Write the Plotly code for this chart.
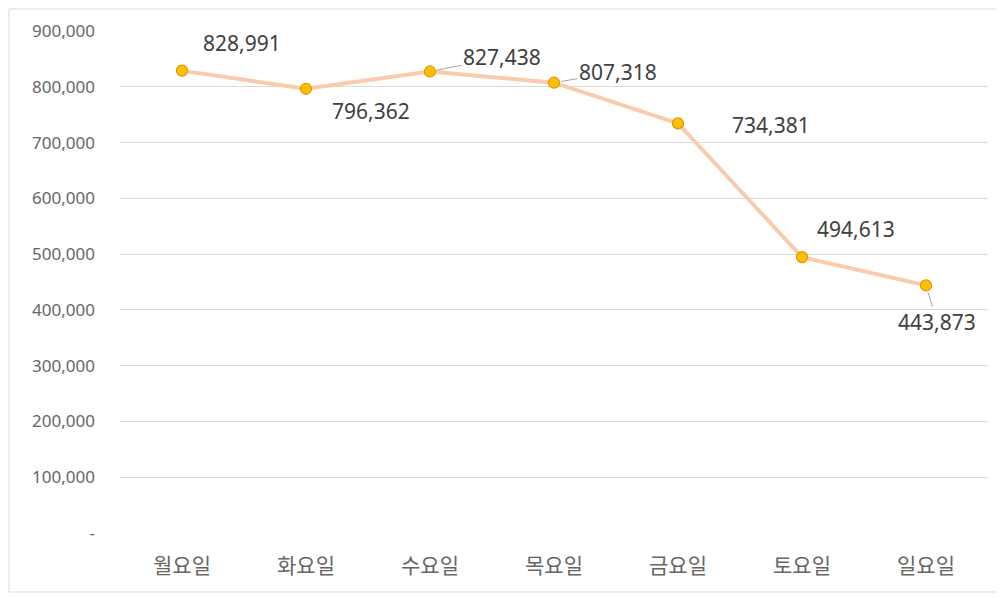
import plotly.graph_objects as go

days = ["월요일", "화요일", "수요일", "목요일", "금요일", "토요일", "일요일"]
values = [828991, 796362, 827438, 807318, 734381, 494613, 443873]
tick_vals = [0, 100000, 200000, 300000, 400000, 500000, 600000, 700000, 800000, 900000]
tick_text = ["-", "100,000", "200,000", "300,000", "400,000", "500,000",
             "600,000", "700,000", "800,000", "900,000"]

# label offsets (px) and whether a leader line is drawn
offsets = [(60, -28, False), (65, 22, False), (72, -14, True), (64, -11, True),
           (93, 2, False), (54, -28, False), (11, 37, True)]

fig = go.Figure()
fig.add_trace(go.Scatter(
    x=days, y=values, mode="lines+markers",
    line=dict(color="#F8CBAD", width=4),
    marker=dict(size=11, color="#FFC000", line=dict(color="#E69500", width=1.2)),
    hoverinfo="x+y", showlegend=False,
))

lab_font = dict(size=21, color="#404040", family="Noto Sans, Open Sans, sans-serif")
for d, v, (dx, dy, lead) in zip(days, values, offsets):
    txt = f"{v:,}"
    if lead:
        fig.add_annotation(x=d, y=v, text=txt, showarrow=True, arrowhead=0,
                           arrowcolor="#A6A6A6", arrowwidth=1, ax=dx, ay=dy,
                           standoff=7, font=lab_font)
    else:
        fig.add_annotation(x=d, y=v, text=txt, showarrow=False, xshift=dx, yshift=-dy,
                           font=lab_font)

fig.update_layout(
    width=990, height=588,
    margin=dict(l=112, r=10, t=23, b=63),
    paper_bgcolor="white", plot_bgcolor="white",
    font=dict(family="Noto Sans CJK KR, Noto Sans, sans-serif", color="#595959"),
    xaxis=dict(showgrid=False, showline=False, ticks="", zeroline=False,
               tickfont=dict(size=21, color="#666666", family="Noto Sans CJK KR"),
               ticklabelstandoff=18, range=[-0.5, 6.5]),
    yaxis=dict(range=[0, 900000], tickvals=tick_vals, ticktext=tick_text,
               showgrid=True, gridcolor="#D9D9D9", gridwidth=1, zeroline=False,
               showline=False, ticks="", ticklabelstandoff=24,
               tickfont=dict(size=17, color="#666666", family="Noto Sans")),
    shapes=[dict(type="rect", xref="paper", yref="paper", x0=-0.1279, x1=1.0104,
                 y0=-0.1175, y1=1.0438, line=dict(color="#D9D9D9", width=1))],
)

fig.write_html("out.html")
